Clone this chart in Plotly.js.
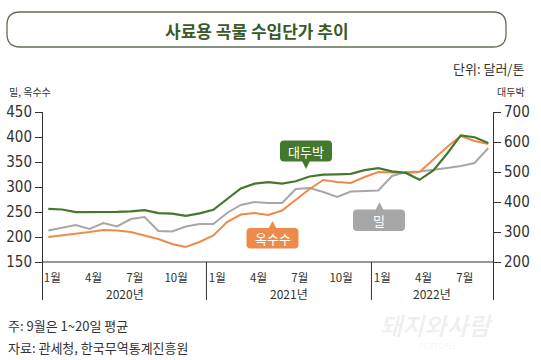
<!DOCTYPE html>
<html><head><meta charset="utf-8">
<script src="https://cdn.plot.ly/plotly-3.0.1.min.js"></script>
<style>html,body{margin:0;padding:0;background:#fff}</style>
</head><body><div id="chart" style="width:541px;height:360px"></div>
<script>
// ---- data ----
const months = ['2020-01','2020-02','2020-03','2020-04','2020-05','2020-06','2020-07','2020-08','2020-09','2020-10','2020-11','2020-12',
                '2021-01','2021-02','2021-03','2021-04','2021-05','2021-06','2021-07','2021-08','2021-09','2021-10','2021-11','2021-12',
                '2022-01','2022-02','2022-03','2022-04','2022-05','2022-06','2022-07','2022-08','2022-09'];
const wheat = [213,219,224,216,228,221,236,240,212,211,221,226,226,248,264,270,268,268,296,298,290,280,291,292,293,322,330,331,334,338,342,348,378];
const corn  = [200,203,206,210,214,213,210,203,196,186,180,190,203,230,245,248,244,253,275,296,314,310,308,320,330,329,328,330,356,380,402,392,386];
const soy   = [377,375,366,366,367,367,369,373,363,361,354,362,374,408,445,461,466,461,469,485,491,492,494,506,513,502,497,474,505,561,622,616,597];
const tickMonths = ['2020-01','2020-04','2020-07','2020-10','2021-01','2021-04','2021-07','2021-10','2022-01','2022-04','2022-07'];
const tickText = ['1월','4월','7월','10월','1월','4월','7월','10월','1월','4월','7월'];
const years = ['2020','2021','2022'];
const yearText = ['2020년','2021년','2022년'];
const leftTicks = [150,200,250,300,350,400,450];
const rightTicks = [200,300,400,500,600,700];

// ---- geometry helpers ----
const W = 541, H = 360, ML = 43, MR = 48, MT = 112, MB = 60;
const PW = W - ML - MR, PH = H - MT - MB;
const px = x => (x - ML) / PW;
const py = y => (H - MB - y) / PH;
const xIdx = months.map((m, i) => i);
const XR = [-0.385, 32.34];

const NUM = '"Liberation Sans Narrow", "Arial Narrow", "DejaVu Sans Condensed", sans-serif';
const KR = '"Noto Sans CJK KR", "Noto Sans", sans-serif';

function roundRect(x0, y0, x1, y1, r) {
  const P = (x, y) => px(x).toFixed(5) + ',' + py(y).toFixed(5);
  return 'M' + P(x0 + r, y0) + ' L' + P(x1 - r, y0) + ' Q' + P(x1, y0) + ' ' + P(x1, y0 + r) +
         ' L' + P(x1, y1 - r) + ' Q' + P(x1, y1) + ' ' + P(x1 - r, y1) +
         ' L' + P(x0 + r, y1) + ' Q' + P(x0, y1) + ' ' + P(x0, y1 - r) +
         ' L' + P(x0, y0 + r) + ' Q' + P(x0, y0) + ' ' + P(x0 + r, y0) + ' Z';
}
function tri(xa, ya, xb, yb, xt, yt) {
  return 'M' + px(xa) + ',' + py(ya) + ' L' + px(xb) + ',' + py(yb) + ' L' + px(xt) + ',' + py(yt) + ' Z';
}

const GREEN = '#44782c', ORANGE = '#ee8b4c', GRAY = '#a7a7a7';

const traces = [
  {x: xIdx, y: wheat, type: 'scatter', mode: 'lines', line: {color: GRAY, width: 2}, yaxis: 'y', hoverinfo: 'skip'},
  {x: xIdx, y: corn, type: 'scatter', mode: 'lines', line: {color: ORANGE, width: 2}, yaxis: 'y', hoverinfo: 'skip'},
  {x: xIdx, y: soy, type: 'scatter', mode: 'lines', line: {color: GREEN, width: 2.2}, yaxis: 'y2', hoverinfo: 'skip'}
];

const shapes = [];
// title rounded box
shapes.push({type: 'path', xref: 'paper', yref: 'paper', path: roundRect(7, 12, 506, 47, 13), line: {color: '#5f6f55', width: 1.3}, fillcolor: 'rgba(0,0,0,0)'});
// year separators (between December and January)
years.slice(1).forEach(y => {
  const i = months.indexOf(y + '-01') - 0.5;
  shapes.push({type: 'line', xref: 'x', yref: 'paper', x0: i, x1: i, y0: 0, y1: py(262), line: {color: '#333', width: 1}});
});
// x axis base line at 150
shapes.push({type: 'line', xref: 'paper', yref: 'y', x0: 0, x1: 1, y0: 150, y1: 150, line: {color: '#333', width: 1}});
// label boxes
shapes.push({type: 'path', xref: 'paper', yref: 'paper', path: roundRect(280, 140.5, 332, 161.5, 4), fillcolor: GREEN, line: {width: 0}});
shapes.push({type: 'path', xref: 'paper', yref: 'paper', path: tri(302, 161, 310, 161, 306, 169), fillcolor: GREEN, line: {width: 0}});
shapes.push({type: 'path', xref: 'paper', yref: 'paper', path: roundRect(246.5, 228, 298.5, 248.5, 4), fillcolor: ORANGE, line: {width: 0}});
shapes.push({type: 'path', xref: 'paper', yref: 'paper', path: tri(268.5, 228.5, 276.5, 228.5, 272.5, 221), fillcolor: ORANGE, line: {width: 0}});
shapes.push({type: 'path', xref: 'paper', yref: 'paper', path: roundRect(353, 209.5, 405, 231, 4), fillcolor: GRAY, line: {width: 0}});
shapes.push({type: 'path', xref: 'paper', yref: 'paper', path: tri(375.5, 210, 383.5, 210, 379.5, 202), fillcolor: GRAY, line: {width: 0}});

const ann = [];
ann.push({xref: 'paper', yref: 'paper', x: px(256.5), y: py(30), text: '<b>사료용 곡물 수입단가 추이</b>', showarrow: false, xanchor: 'center', yanchor: 'middle', font: {family: KR, size: 17, color: '#3b5a28'}});
ann.push({xref: 'paper', yref: 'paper', x: px(526), y: py(68), text: '단위: 달러/톤', showarrow: false, xanchor: 'right', yanchor: 'middle', font: {family: KR, size: 13, color: '#333'}});
ann.push({xref: 'paper', yref: 'paper', x: px(7), y: py(91), text: '밀, 옥수수', showarrow: false, xanchor: 'left', yanchor: 'middle', font: {family: KR, size: 10, color: '#333'}});
ann.push({xref: 'paper', yref: 'paper', x: px(527), y: py(91), text: '대두박', showarrow: false, xanchor: 'right', yanchor: 'middle', font: {family: KR, size: 10, color: '#333'}});
// year labels centred between separators
years.forEach((y, k) => {
  const first = Math.max(XR[0], months.indexOf(y + '-01') - 0.5);
  const lastIdx = months.map(m => m.slice(0, 4)).lastIndexOf(y);
  const last = Math.min(XR[1], lastIdx + 0.5);
  ann.push({xref: 'x', yref: 'paper', x: (first + last) / 2, y: py(293), text: yearText[k], showarrow: false, xanchor: 'center', yanchor: 'middle', font: {family: KR, size: 12, color: '#333'}});
});
// series labels
ann.push({xref: 'paper', yref: 'paper', x: px(306), y: py(151), text: '대두박', showarrow: false, xanchor: 'center', yanchor: 'middle', font: {family: KR, size: 13, color: '#fff'}});
ann.push({xref: 'paper', yref: 'paper', x: px(272.5), y: py(238.5), text: '옥수수', showarrow: false, xanchor: 'center', yanchor: 'middle', font: {family: KR, size: 13, color: '#fff'}});
ann.push({xref: 'paper', yref: 'paper', x: px(379), y: py(220.5), text: '밀', showarrow: false, xanchor: 'center', yanchor: 'middle', font: {family: KR, size: 13, color: '#fff'}});
// footer
ann.push({xref: 'paper', yref: 'paper', x: px(6), y: py(325), text: '주: 9월은 1~20일 평균', showarrow: false, xanchor: 'left', yanchor: 'middle', font: {family: KR, size: 13, color: '#333'}});
ann.push({xref: 'paper', yref: 'paper', x: px(6), y: py(347), text: '자료: 관세청, 한국무역통계진흥원', showarrow: false, xanchor: 'left', yanchor: 'middle', font: {family: KR, size: 13, color: '#333'}});
// watermark
ann.push({xref: 'paper', yref: 'paper', x: px(437), y: py(324), text: '<b><i>돼지와사람</i></b>', showarrow: false, xanchor: 'center', yanchor: 'middle', font: {family: KR, size: 24, color: 'rgba(0,0,0,0.07)'}});
ann.push({xref: 'paper', yref: 'paper', x: px(437), y: py(346), text: 'PIGPEOPLE', showarrow: false, xanchor: 'center', yanchor: 'middle', font: {family: KR, size: 7, color: 'rgba(0,0,0,0.07)'}});

const layout = {
  width: W, height: H,
  margin: {l: ML, r: MR, t: MT, b: MB, pad: 0},
  paper_bgcolor: '#fff', plot_bgcolor: '#fff',
  showlegend: false,
  xaxis: {
    range: XR, anchor: 'free', position: py(262),
    showline: false, showgrid: false, zeroline: false,
    tickvals: tickMonths.map(m => months.indexOf(m)), ticktext: tickText,
    ticks: 'outside', ticklen: 5, tickcolor: 'rgba(0,0,0,0)', ticklabelshift: 4,
    tickfont: {family: KR, size: 11.5, color: '#333'}
  },
  yaxis: {
    range: [150 - 38 * 2, 450], tickvals: leftTicks,
    ticks: 'outside', ticklen: 7, tickcolor: '#333', tickwidth: 1,
    showline: true, linecolor: '#333', linewidth: 1,
    showgrid: false, zeroline: false,
    tickfont: {family: NUM, size: 15, color: '#333'}
  },
  yaxis2: {
    range: [200 - 38 * 10 / 3, 700], tickvals: rightTicks, overlaying: 'y', side: 'right',
    ticks: 'outside', ticklen: 7, tickcolor: '#333', tickwidth: 1,
    showline: true, linecolor: '#333', linewidth: 1,
    showgrid: false, zeroline: false,
    tickfont: {family: NUM, size: 15, color: '#333'}
  },
  shapes: shapes,
  annotations: ann
};
Plotly.newPlot('chart', traces, layout, {displayModeBar: false, staticPlot: true});
</script></body></html>
